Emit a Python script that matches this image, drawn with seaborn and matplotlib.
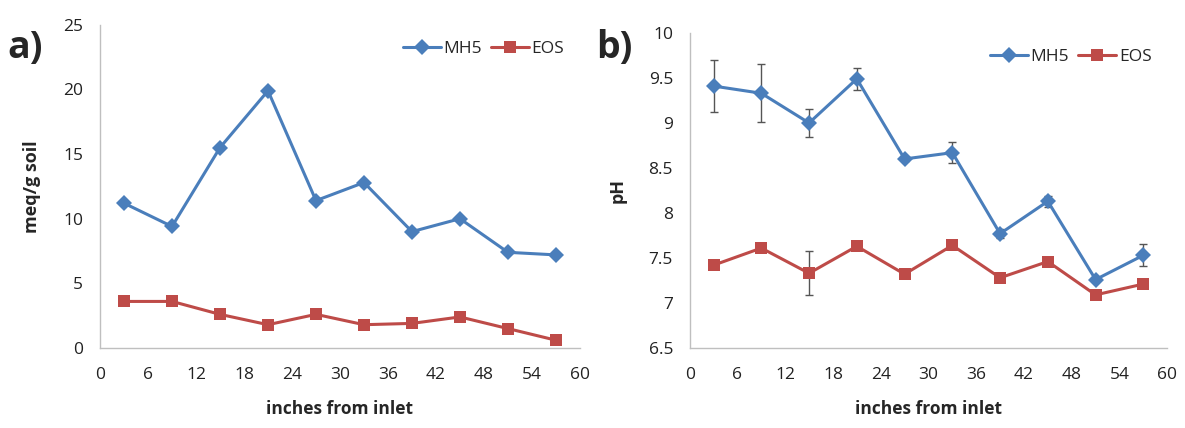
import numpy as np
import pandas as pd
import matplotlib
matplotlib.use("Agg")
import matplotlib.pyplot as plt
import seaborn as sns

# ------------------ DATOS ------------------
inches = [3, 9, 15, 21, 27, 33, 39, 45, 51, 57]

cec_mh5 = [11.2, 9.4, 15.5, 19.9, 11.4, 12.8, 9.0, 10.0, 7.4, 7.2]
cec_eos = [3.6, 3.6, 2.6, 1.8, 2.6, 1.8, 1.9, 2.4, 1.5, 0.6]

ph_mh5 = [9.41, 9.33, 9.00, 9.49, 8.60, 8.67, 7.77, 8.13, 7.26, 7.53]
ph_mh5_err = [0.29, 0.32, 0.16, 0.12, 0.02, 0.12, 0.05, 0.06, 0.02, 0.12]
ph_eos = [7.42, 7.61, 7.33, 7.63, 7.32, 7.64, 7.28, 7.46, 7.09, 7.21]
ph_eos_err = [0, 0, 0.245, 0, 0, 0, 0, 0, 0, 0]

series = ["MH5", "EOS"]
colores = {"MH5": "#4A7EBB", "EOS": "#BE4B48"}
marcadores = {"MH5": "D", "EOS": "s"}
x_ticks = list(range(0, 61, 6))

# ------------------ GRAFICOS ------------------
sns.set_style("white")
plt.rcParams["font.family"] = ["Open Sans", "DejaVu Sans"]

fig = plt.figure(figsize=(11.85, 4.28), dpi=100)
ax_a = fig.add_axes([0.0844, 0.187, 0.405, 0.755])
ax_b = fig.add_axes([0.582, 0.187, 0.403, 0.736])


def dibujar(ax, mh5, eos, ylabel, yticks, ylim, err_mh5=None, err_eos=None):
    df = pd.DataFrame({
        "inches": inches * 2,
        "valor": mh5 + eos,
        "serie": ["MH5"] * len(inches) + ["EOS"] * len(inches),
    })
    if err_mh5 is not None:
        ax.errorbar(inches, mh5, yerr=err_mh5, fmt="none", ecolor="#555555",
                    elinewidth=1, capsize=3, zorder=1)
        ax.errorbar(inches, eos, yerr=err_eos, fmt="none", ecolor="#555555",
                    elinewidth=1, capsize=3, zorder=1)
    sns.lineplot(data=df, x="inches", y="valor", hue="serie", style="serie",
                 hue_order=series, style_order=series, palette=colores,
                 markers=marcadores, dashes=False, linewidth=2.2,
                 markersize=8, markeredgewidth=0, ax=ax, zorder=2)
    ax.set_xlim(0, 60)
    ax.set_xticks(x_ticks)
    ax.set_ylim(*ylim)
    ax.set_yticks(yticks)
    ax.set_yticklabels([f"{t:g}" for t in yticks])
    ax.tick_params(length=0, labelsize=12.5, colors="#222222")
    ax.tick_params(axis="x", pad=14)
    ax.tick_params(axis="y", pad=12)
    for lado in ["top", "right"]:
        ax.spines[lado].set_visible(False)
    for lado in ["left", "bottom"]:
        ax.spines[lado].set_color("#BFBFBF")
        ax.spines[lado].set_linewidth(1)
    ax.set_xlabel("inches from inlet", fontsize=12.5, fontweight="bold", labelpad=12)
    ax.set_ylabel(ylabel, fontsize=13, fontweight="bold", labelpad=16)
    ax.legend(loc="upper right", ncol=2, frameon=False, fontsize=12.5,
              handlelength=2.2, columnspacing=0.5, handletextpad=0.15,
              bbox_to_anchor=(1.0, 1.0))


dibujar(ax_a, cec_mh5, cec_eos, "meq/g soil", [0, 5, 10, 15, 20, 25], (0, 25))
dibujar(ax_b, ph_mh5, ph_eos, "pH", [6.5, 7, 7.5, 8, 8.5, 9, 9.5, 10], (6.5, 10),
        err_mh5=ph_mh5_err, err_eos=ph_eos_err)

fig.text(0.006, 0.865, "a)", fontsize=27, fontweight="bold")
fig.text(0.503, 0.865, "b)", fontsize=27, fontweight="bold")

fig.savefig("out.png", dpi=100)
plt.close(fig)
